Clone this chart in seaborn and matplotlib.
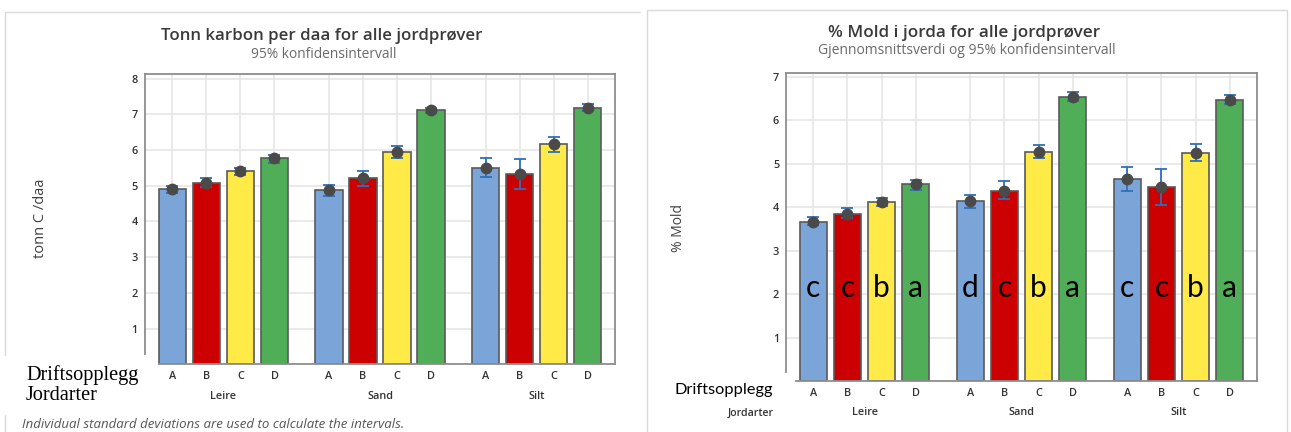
import numpy as np
import pandas as pd
import matplotlib
matplotlib.use("Agg")
import matplotlib.pyplot as plt
import matplotlib.transforms as mtransforms
from matplotlib.lines import Line2D
import seaborn as sns

# --- data -------------------------------------------------------------
jordarter = ["Leire", "Sand", "Silt"]
driftsopplegg = ["A", "B", "C", "D"]

# Tonn karbon per daa: mean and 95 % confidence limits
karbon_leire = [4.90, 5.09, 5.41, 5.77]
karbon_sand = [4.87, 5.21, 5.94, 7.12]
karbon_silt = [5.50, 5.34, 6.16, 7.19]
karbon_lo_leire = [4.79, 4.97, 5.30, 5.65]
karbon_lo_sand = [4.71, 5.00, 5.77, 7.03]
karbon_lo_silt = [5.25, 4.90, 5.94, 7.09]
karbon_hi_leire = [5.00, 5.21, 5.51, 5.86]
karbon_hi_sand = [5.03, 5.41, 6.10, 7.19]
karbon_hi_silt = [5.78, 5.76, 6.37, 7.29]

# % mold: mean and 95 % confidence limits
mold_leire = [3.66, 3.85, 4.12, 4.52]
mold_sand = [4.13, 4.38, 5.27, 6.53]
mold_silt = [4.64, 4.46, 5.25, 6.46]
mold_lo_leire = [3.59, 3.75, 4.02, 4.40]
mold_lo_sand = [3.97, 4.18, 5.12, 6.44]
mold_lo_silt = [4.38, 4.05, 5.05, 6.36]
mold_hi_leire = [3.78, 3.97, 4.21, 4.62]
mold_hi_sand = [4.28, 4.59, 5.43, 6.64]
mold_hi_silt = [4.93, 4.87, 5.46, 6.57]

# significance letters (mold)
bokstaver_leire = ["c", "c", "b", "a"]
bokstaver_sand = ["d", "c", "b", "a"]
bokstaver_silt = ["c", "c", "b", "a"]

farger = ["#7BA5D8", "#CC0000", "#FFEA47", "#4FAE57"]


def long_table(means, los, his, letters=None):
    rows = []
    for j, jord in enumerate(jordarter):
        for d, drift in enumerate(driftsopplegg):
            rows.append({
                "Jordart": jord,
                "Drift": drift,
                "verdi": means[j][d],
                "lo": los[j][d],
                "hi": his[j][d],
                "bokstav": letters[j][d] if letters else "",
            })
    return pd.DataFrame(rows)


df_karbon = long_table(
    [karbon_leire, karbon_sand, karbon_silt],
    [karbon_lo_leire, karbon_lo_sand, karbon_lo_silt],
    [karbon_hi_leire, karbon_hi_sand, karbon_hi_silt],
)
df_mold = long_table(
    [mold_leire, mold_sand, mold_silt],
    [mold_lo_leire, mold_lo_sand, mold_lo_silt],
    [mold_hi_leire, mold_hi_sand, mold_hi_silt],
    [bokstaver_leire, bokstaver_sand, bokstaver_silt],
)

# --- style ------------------------------------------------------------
sns.set_style("white")
plt.rcParams["font.family"] = ["Open Sans", "DejaVu Sans"]

W, H = 1291, 432
fig = plt.figure(figsize=(W / 100, H / 100), dpi=100)


def fx(px):
    return px / W


def fy(py):
    return 1 - py / H


SPINE = "#8E8E8E"
GRID = "#E6E6E6"
TXT = "#333333"
TICK_FS = 7.8


def panel(rect, df, ytop, yticks, spine_lo, bottom_start, tick_off, group_off):
    ax = fig.add_axes(rect)
    sns.barplot(
        data=df, x="Jordart", y="verdi", hue="Drift",
        order=jordarter, hue_order=driftsopplegg, palette=farger,
        width=0.87, gap=0.2, errorbar=None, legend=False,
        edgecolor="#5A5A5A", linewidth=1.2, saturation=1, ax=ax, zorder=2,
    )
    bars = sorted(ax.patches, key=lambda p: p.get_x())
    centers = np.array([p.get_x() + p.get_width() / 2 for p in bars])
    d = df.sort_values(["Jordart", "Drift"]).reset_index(drop=True)
    mean = d["verdi"].to_numpy()

    ax.errorbar(centers, mean, yerr=[mean - d["lo"], d["hi"] - mean],
                fmt="none", ecolor="#2F6FB8", elinewidth=1.3,
                capsize=4, capthick=1.3, zorder=3)
    ax.plot(centers, mean, "o", color="#4A4A4A", ms=7.5, zorder=4)

    ax.set_xlim(-0.5, 2.5)
    ax.set_ylim(0, ytop)
    ax.set_yticks(yticks)
    ax.set_yticklabels([str(t) for t in yticks])
    ax.set_xticks(centers)
    ax.set_xticklabels(list(d["Drift"]))
    ax.set_xlabel("")
    ax.set_ylabel("")

    ax.grid(True, color=GRID, linewidth=1.2, zorder=0)
    ax.set_axisbelow(True)
    for s in ax.spines.values():
        s.set_color(SPINE)
        s.set_linewidth(1.3)
    ax.spines["left"].set_bounds(spine_lo, ytop)
    ax.spines["bottom"].set_bounds(bars[0].get_x() - bottom_start, 2.5)
    ax.tick_params(axis="both", length=2.5, width=0.8, color=SPINE,
                   labelsize=TICK_FS, labelcolor=TXT, pad=tick_off)
    for lab in ax.get_xticklabels() + ax.get_yticklabels():
        lab.set_fontweight("semibold")

    tr = mtransforms.blended_transform_factory(ax.transData, ax.transAxes)
    for i, jord in enumerate(jordarter):
        ax.annotate(jord, xy=(i, 0), xycoords=tr, xytext=(0, -group_off),
                    textcoords="offset points", ha="center", va="center",
                    fontsize=TICK_FS, fontweight="semibold", color=TXT)
    return ax, centers, d


# left panel: tonn karbon
axL, cL, dL = panel(
    [fx(145), fy(364.3), fx(615) - fx(145), fy(74) - fy(364.3)],
    df_karbon, 8.13, [1, 2, 3, 4, 5, 6, 7, 8],
    spine_lo=0.3, bottom_start=0.0, tick_off=2.6, group_off=23.5)

# right panel: % mold
axR, cR, dR = panel(
    [fx(786), fy(381), fx(1257) - fx(786), fy(72.7) - fy(381)],
    df_mold, 7.09, [1, 2, 3, 4, 5, 6, 7],
    spine_lo=0.2, bottom_start=0.02, tick_off=2.4, group_off=22.5)

for x, b in zip(cR, dR["bokstav"]):
    axR.text(x, 1.93, b, ha="center", va="baseline", fontsize=21.5,
             color="black", family=["Lato", "DejaVu Sans"], zorder=5)

# titles
fig.text(fx(322), fy(36), "Tonn karbon per daa for alle jordprøver",
         ha="center", va="center", fontsize=12.2, fontweight="semibold",
         color="#3A3A3A")
fig.text(fx(324), fy(54), "95% konfidensintervall", ha="center",
         va="center", fontsize=9.9, color="#6A6A6A")
fig.text(fx(964), fy(33), "% Mold i jorda for alle jordprøver",
         ha="center", va="center", fontsize=12.3, fontweight="semibold",
         color="#3A3A3A")
fig.text(fx(967), fy(51), "Gjennomsnittsverdi og 95% konfidensintervall",
         ha="center", va="center", fontsize=10.0, color="#6A6A6A")

# axis titles
fig.text(fx(40), fy(218), "tonn C /daa", rotation=90, ha="center",
         va="center", fontsize=10.5, color="#404040")
fig.text(fx(678), fy(228), "% Mold", rotation=90, ha="center",
         va="center", fontsize=10.0, color="#404040")

# category captions
fig.text(fx(26), fy(375), "Driftsopplegg", ha="left", va="center",
         fontsize=14.6, family=["Liberation Serif", "DejaVu Serif"],
         color="black")
fig.text(fx(26), fy(396), "Jordarter", ha="left", va="center",
         fontsize=14.6, family=["Liberation Serif", "DejaVu Serif"],
         color="black")
fig.text(fx(675), fy(390), "Driftsopplegg", ha="left", va="center",
         fontsize=11.8, family=["Lato", "DejaVu Sans"], color="black")
fig.text(fx(751), fy(413), "Jordarter", ha="center", va="center",
         fontsize=7.6, fontweight="semibold", color=TXT)

# footnote
fig.text(fx(22), fy(424),
         "Individual standard deviations are used to calculate the intervals.",
         ha="left", va="center", fontsize=9.5, style="italic", color="#555555")

# panel frames
frame = dict(color="#DADADA", linewidth=1.0, transform=fig.transFigure)
fig.add_artist(Line2D([fx(5), fx(640)], [fy(12), fy(12)], **frame))
fig.add_artist(Line2D([fx(5), fx(5)], [fy(12), fy(355)], **frame))
fig.add_artist(Line2D([fx(5), fx(5)], [fy(415), fy(432)], **frame))
fig.add_artist(Line2D([fx(647), fx(1287), fx(1287)],
                      [fy(10), fy(10), fy(432)], **frame))
fig.add_artist(Line2D([fx(647), fx(647)], [fy(10), fy(432)], **frame))

fig.savefig("out.png", dpi=100)
